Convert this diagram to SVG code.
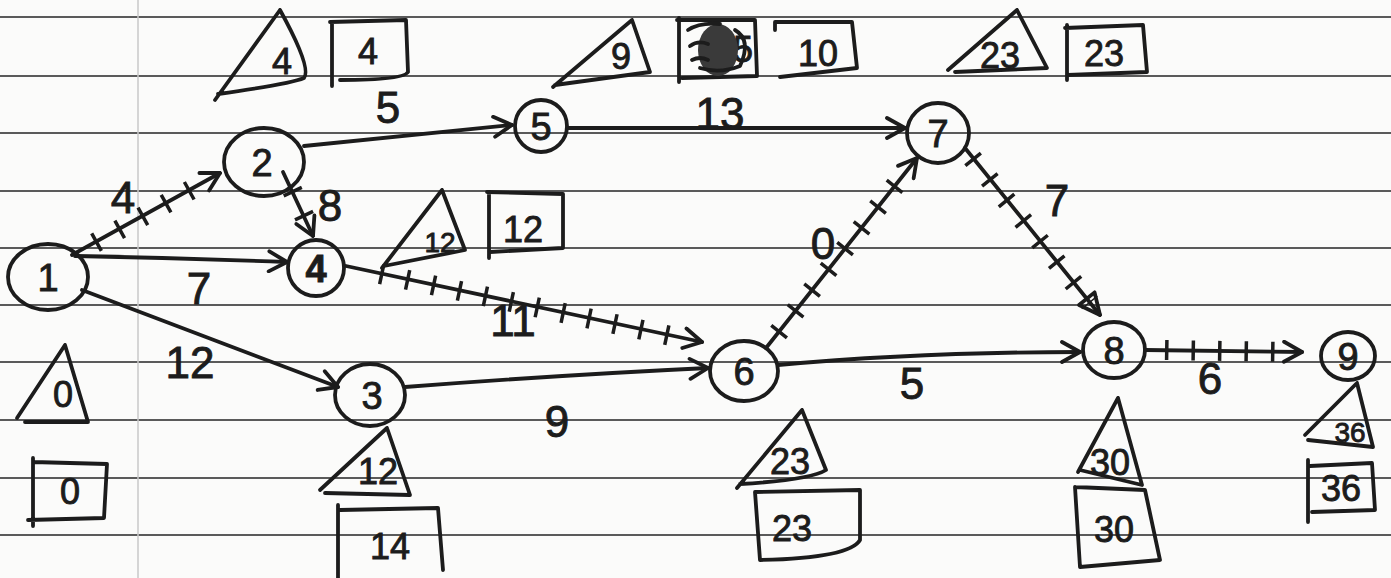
<svg xmlns="http://www.w3.org/2000/svg" width="1391" height="578" viewBox="0 0 1391 578">
<defs>
<style>
.paper{fill:#fbfbfa}
.rule{stroke:#5a5a5a;stroke-width:2.2;fill:none}
.margin{stroke:#c8c8c8;stroke-width:1.5;fill:none}
.ink{stroke:#1c1c1c;stroke-width:3.8;fill:none;stroke-linecap:round;stroke-linejoin:round}
.tk{stroke:#1c1c1c;stroke-width:20;fill:none;stroke-dasharray:3.5 23}
.node{stroke:#1c1c1c;stroke-width:3.8;fill:none}
text{font-family:"Liberation Sans","DejaVu Sans",sans-serif;fill:#1c1c1c;stroke:#1c1c1c;stroke-width:0.9;text-anchor:middle}
.nl{font-size:38px}
.el{font-size:44px}
.an{font-size:36px}
.sm{font-size:28px}
</style>
<marker id="chev" viewBox="0 0 24 24" refX="22" refY="12" markerWidth="24" markerHeight="24" markerUnits="userSpaceOnUse" orient="auto">
<path d="M4,2 L22,12 L4,22" fill="none" stroke="#1c1c1c" stroke-width="3.8" stroke-linecap="round" stroke-linejoin="round"/>
</marker>
<marker id="tri" viewBox="0 0 26 26" refX="24" refY="13" markerWidth="26" markerHeight="26" markerUnits="userSpaceOnUse" orient="auto">
<path d="M3,3 L24,13 L3,23 Z" fill="none" stroke="#1c1c1c" stroke-width="3.8" stroke-linejoin="round"/>
</marker>
</defs>
<rect class="paper" x="0" y="0" width="1391" height="578"/>
<g id="paper-lines">
<path class="rule" d="M0,17 H1391 M0,76 H1391 M0,133 H1391 M0,191 H1391 M0,248 H1391 M0,305 H1391 M0,362 H1391 M0,420 H1391 M0,478 H1391 M0,535 H1391"/>
<path class="margin" d="M138,0 V578"/>
</g>
<g id="connectors">
<path class="ink" d="M72,255 L220,173" marker-end="url(#chev)"/>
<path class="tk" d="M95,243 L205,182"/>
<path class="ink" d="M75,256 Q180,258 287,262" marker-end="url(#chev)"/>
<path class="ink" d="M283,172 L313,236" marker-end="url(#chev)"/>
<path class="tk" d="M292,190 L308,224"/>
<path class="ink" d="M82,290 L338,387" marker-end="url(#chev)"/>
<path class="ink" d="M304,146 L512,125" marker-end="url(#chev)"/>
<path class="ink" d="M567,128 L905,128" marker-end="url(#chev)"/>
<path class="ink" d="M346,266 L702,342" marker-end="url(#chev)"/>
<path class="tk" d="M380,274 L690,340"/>
<path class="ink" d="M405,387 Q560,375 708,368" marker-end="url(#chev)"/>
<path class="ink" d="M766,348 L917,158" marker-end="url(#chev)"/>
<path class="tk" d="M778,333 L910,167"/>
<path class="ink" d="M965,148 L1100,315" marker-end="url(#tri)"/>
<path class="tk" d="M972,158 L1090,303"/>
<path class="ink" d="M778,365 Q920,352 1080,352" marker-end="url(#chev)"/>
<path class="ink" d="M1145,350 L1302,352" marker-end="url(#chev)"/>
<path class="tk" d="M1165,350 L1290,352"/>
<text class="el" x="123" y="213">4</text>
<text class="el" x="199" y="304">7</text>
<text class="el" x="190" y="378">12</text>
<text class="el" x="388" y="123">5</text>
<text class="el" x="330" y="221">8</text>
<text class="el" x="720" y="129">13</text>
<text class="el" x="513" y="336">11</text>
<text class="el" x="557" y="437">9</text>
<text class="el" x="823" y="259">0</text>
<text class="el" x="1057" y="216">7</text>
<text class="el" x="912" y="399">5</text>
<text class="el" x="1210" y="394">6</text>
</g>
<g id="node1">
<ellipse class="node" cx="48" cy="277" rx="40" ry="33"/>
<text class="nl" x="48" y="291">1</text>
<path class="ink" d="M65,345 L17,418 M25,422 L88,422 L65,345"/>
<text class="an" x="63" y="407">0</text>
<path class="ink" d="M33,458 V526 M28,520 L104,518 L107,464 L33,462"/>
<text class="an" x="70" y="504">0</text>
</g>
<g id="node2">
<ellipse class="node" cx="264" cy="162" rx="40" ry="34"/>
<text class="nl" x="262" y="176">2</text>
<path class="ink" d="M280,10 L215,100 M218,94 Q290,84 304,78 Q312,68 280,10"/>
<text class="an" x="282" y="74">4</text>
<path class="ink" d="M330,22 L406,20 L408,72 Q404,80 340,80 M332,22 V86"/>
<text class="an" x="368" y="64">4</text>
</g>
<g id="node5">
<ellipse class="node" cx="541" cy="126" rx="26" ry="26"/>
<text class="nl" x="541" y="140">5</text>
<path class="ink" d="M632,20 L553,87 M555,85 L650,72 L632,20"/>
<text class="an" x="621" y="69">9</text>
<path class="ink" d="M677,20 L755,20 L757,76 L682,78 M679,18 V82"/>
<text class="an" x="743" y="62">5</text>
<ellipse cx="718" cy="50" rx="20" ry="26" fill="#3a3a3a"/>
<path class="ink" d="M688,30 Q700,22 720,24 M690,46 Q698,40 708,44 M692,60 Q700,56 708,60 M735,30 Q752,40 740,66 Q720,74 700,68"/>
<path class="ink" d="M775,22 L852,22 L857,68 L780,77 M775,22 V30"/>
<text class="an" x="818" y="66">10</text>
</g>
<g id="node7">
<ellipse class="node" cx="938" cy="133" rx="31" ry="30"/>
<text class="nl" x="938" y="147">7</text>
<path class="ink" d="M1017,10 L948,70 M955,72 L1047,68 L1017,10"/>
<text class="an" x="1000" y="68">23</text>
<path class="ink" d="M1065,28 L1143,25 L1147,72 L1068,75 M1067,25 V80"/>
<text class="an" x="1104" y="66">23</text>
</g>
<g id="node4">
<ellipse class="node" cx="316" cy="268" rx="28" ry="28"/>
<text class="nl" x="316" y="282" font-weight="bold">4</text>
<path class="ink" d="M442,190 L382,268 M384,266 L465,250 L442,190"/>
<text class="sm" x="440" y="252">12</text>
<path class="ink" d="M487,192 L563,194 L563,248 L490,252 M489,192 V258"/>
<text class="an" x="523" y="242">12</text>
</g>
<g id="node3">
<ellipse class="node" cx="370" cy="395" rx="35" ry="31"/>
<text class="nl" x="372" y="409">3</text>
<path class="ink" d="M387,428 L320,490 M325,493 L410,495 L387,428"/>
<text class="an" x="378" y="484">12</text>
<path class="ink" d="M340,510 L438,508 L443,570 M338,505 V578"/>
<text class="an" x="390" y="559">14</text>
</g>
<g id="node6">
<ellipse class="node" cx="744" cy="371" rx="34" ry="30"/>
<text class="nl" x="744" y="385">6</text>
<path class="ink" d="M802,410 L737,488 M740,484 Q810,480 826,470 L802,410"/>
<text class="an" x="790" y="474">23</text>
<path class="ink" d="M755,492 L860,490 L860,540 Q850,558 760,560 L755,492"/>
<text class="an" x="792" y="541">23</text>
</g>
<g id="node8">
<ellipse class="node" cx="1114" cy="350" rx="31" ry="28"/>
<text class="nl" x="1114" y="364">8</text>
<path class="ink" d="M1118,398 L1078,472 M1080,470 L1142,485 L1118,398"/>
<text class="an" x="1110" y="475">30</text>
<path class="ink" d="M1075,487 L1145,490 L1160,560 L1080,567 L1075,487"/>
<text class="an" x="1114" y="542">30</text>
</g>
<g id="node9">
<ellipse class="node" cx="1348" cy="356" rx="27" ry="24"/>
<text class="nl" x="1348" y="370">9</text>
<path class="ink" d="M1357,383 L1305,435 M1308,440 L1373,447 L1357,383"/>
<text class="sm" x="1350" y="442">36</text>
<path class="ink" d="M1310,466 L1372,463 L1375,510 L1312,512 M1308,460 V522"/>
<text class="an" x="1341" y="501">36</text>
</g>
</svg>
